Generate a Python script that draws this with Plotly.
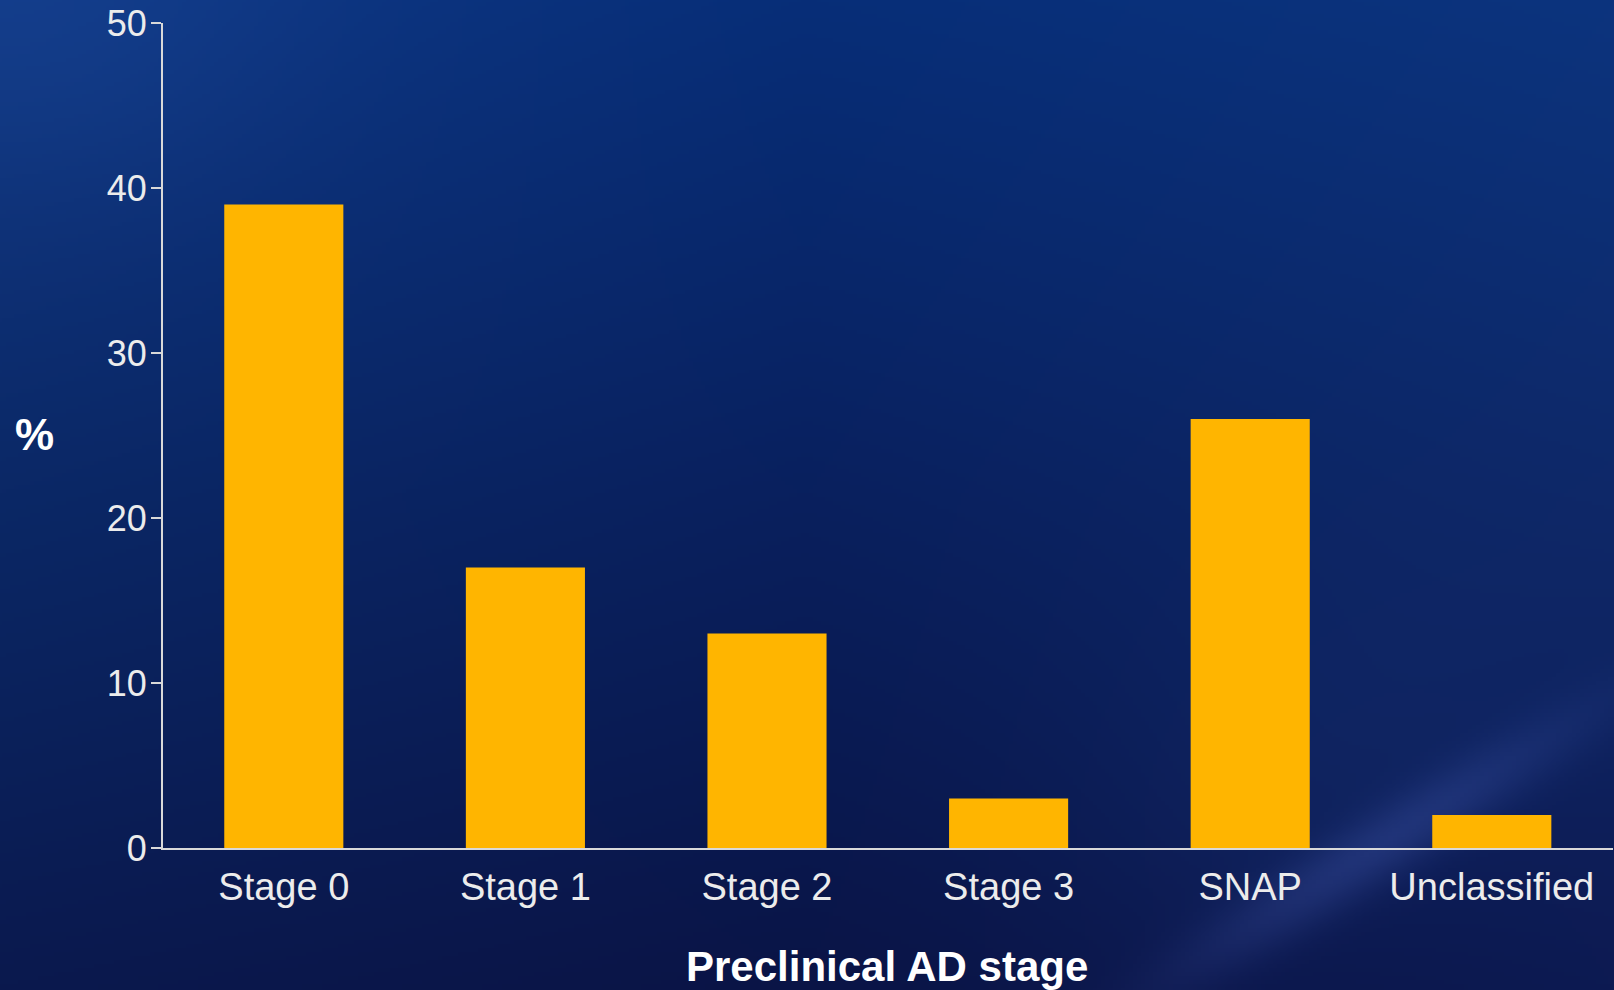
import base64
import struct
import zlib

import numpy as np
import plotly.graph_objects as go

# ---------------- data ----------------
categories = ["Stage 0", "Stage 1", "Stage 2", "Stage 3", "SNAP", "Unclassified"]
percent = [39, 17, 13, 3, 26, 2]
y_ticks = [0, 10, 20, 30, 40, 50]
x_title = "Preclinical AD stage"
y_title = "%"

# ---------------- background (decorative gradient) ----------------
FW, FH = 1614, 990
S = 4
w, h = FW // S + 1, FH // S + 1
X = (np.arange(w) + 0.5) * S
Y = (np.arange(h) + 0.5) * S
XX, YY = np.meshgrid(X, Y)
U = XX / FW
V = YY / FH

anchors = np.array([
    [[16, 56, 132], [7, 46, 120], [12, 52, 126]],
    [[11, 40, 102], [9, 32, 94], [14, 40, 104]],
    [[11, 25, 78], [10, 20, 70], [13, 26, 82]],
], dtype=float)


def interp_grid(Ug, Vg):
    fu = np.clip(Ug * 2, 0, 2 - 1e-9)
    fv = np.clip(Vg * 2, 0, 2 - 1e-9)
    iu = np.floor(fu).astype(int)
    iv = np.floor(fv).astype(int)
    tu = (fu - iu)[..., None]
    tv = (fv - iv)[..., None]
    a = anchors[iv, iu]
    b = anchors[iv, iu + 1]
    c = anchors[iv + 1, iu]
    d = anchors[iv + 1, iu + 1]
    return (a * (1 - tu) + b * tu) * (1 - tv) + (c * (1 - tu) + d * tu) * tv


img = interp_grid(U, V)
# soft bright blob top-left
blob = np.exp(-(((XX - 60) / 240) ** 2 + ((YY - 30) / 180) ** 2))
img += blob[..., None] * np.array([4, 6, 8])
# diagonal light streak bottom-right
L = np.hypot(457, 289)
s = ((XX - 1157) * 289 + (YY - 990) * 457) / L
t = ((XX - 1157) * 457 - (YY - 990) * 289) / L
env = np.exp(-((t - 260) / 240) ** 2)
streak = np.exp(-(s / 34) ** 2) * env
img += streak[..., None] * np.array([18, 20, 30])
side = (1 / (1 + np.exp(s / 40))) * np.exp(-((t - 250) / 260) ** 2) * np.exp(-(np.maximum(0, -s) / 260) ** 2)
img += side[..., None] * np.array([4, 7, 10])
img = np.clip(img, 0, 255).astype(np.uint8)


def to_png(arr):
    hh, ww, _ = arr.shape
    raw = b"".join(b"\x00" + arr[r].tobytes() for r in range(hh))

    def chunk(tag, data):
        c = struct.pack(">I", len(data)) + tag + data
        return c + struct.pack(">I", zlib.crc32(tag + data) & 0xFFFFFFFF)

    return (b"\x89PNG\r\n\x1a\n"
            + chunk(b"IHDR", struct.pack(">IIBBBBB", ww, hh, 8, 2, 0, 0, 0))
            + chunk(b"IDAT", zlib.compress(raw, 9))
            + chunk(b"IEND", b""))


bg_src = "data:image/png;base64," + base64.b64encode(to_png(img)).decode()

# ---------------- figure ----------------
AXIS_COL = "#d9d9d9"
FONT = "Liberation Sans, Arial, sans-serif"

fig = go.Figure(
    go.Bar(
        x=categories,
        y=percent,
        marker=dict(color="#FFB500", line=dict(width=0)),
        hoverinfo="x+y",
    )
)

fig.update_layout(
    width=FW,
    height=FH,
    margin=dict(l=0, r=0, t=0, b=0),
    paper_bgcolor="#0b2060",
    plot_bgcolor="rgba(0,0,0,0)",
    showlegend=False,
    bargap=0.507,
    font=dict(family=FONT, color="#ececec"),
    images=[dict(
        source=bg_src, xref="paper", yref="paper", x=0, y=1,
        sizex=1, sizey=1, sizing="stretch", layer="below",
        xanchor="left", yanchor="top",
    )],
    xaxis=dict(
        domain=[163 / FW, 1612.6 / FW],
        showline=True, linecolor=AXIS_COL, linewidth=2,
        ticks="outside", ticklen=4, tickcolor="rgba(0,0,0,0)",
        tickfont=dict(size=38, color="#ececec", family=FONT),
        showgrid=False, zeroline=False, automargin=False,
    ),
    yaxis=dict(
        domain=[142 / FH, 967 / FH],
        range=[0, 50],
        tickvals=y_ticks,
        showline=True, linecolor=AXIS_COL, linewidth=2,
        ticks="outside", ticklen=10, tickwidth=2, tickcolor=AXIS_COL,
        ticklabelstandoff=-3,
        tickfont=dict(size=36, color="#ececec", family=FONT),
        showgrid=False, zeroline=False, automargin=False,
    ),
    annotations=[
        dict(text=x_title, xref="paper", yref="paper",
             x=887 / FW, y=(FH - 966) / FH, xanchor="center", yanchor="middle",
             showarrow=False,
             font=dict(size=42, color="#ffffff", family=FONT, weight="bold")),
        dict(text=y_title, xref="paper", yref="paper",
             x=34 / FW, y=(FH - 434) / FH, xanchor="center", yanchor="middle",
             showarrow=False,
             font=dict(size=44, color="#ffffff", family=FONT, weight="bold")),
    ],
)

fig.write_html("out.html")
